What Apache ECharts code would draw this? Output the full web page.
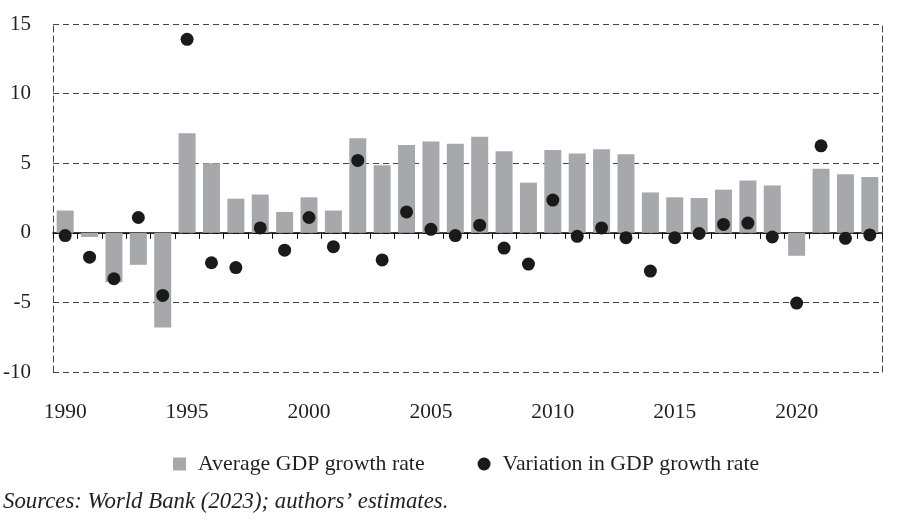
<!DOCTYPE html>
<html>
<head>
<meta charset="utf-8">
<script src="https://cdn.jsdelivr.net/npm/echarts@6/dist/echarts.min.js"></script>
<style>html,body{margin:0;padding:0;background:#fff}#c{width:900px;height:527px}</style>
</head>
<body>
<div id="c"></div>
<script>
const years = ['1990','1991','1992','1993','1994','1995','1996','1997','1998','1999','2000','2001','2002','2003','2004','2005','2006','2007','2008','2009','2010','2011','2012','2013','2014','2015','2016','2017','2018','2019','2020','2021','2022','2023'];
const avgGrowth = [1.6,-0.3,-3.55,-2.3,-6.8,7.15,5.0,2.45,2.75,1.5,2.55,1.6,6.8,4.85,6.3,6.55,6.4,6.9,5.85,3.6,5.95,5.7,6.0,5.65,2.9,2.55,2.5,3.1,3.75,3.4,-1.65,4.6,4.2,4.0];
const variation = [-0.2,-1.75,-3.3,1.1,-4.5,13.9,-2.15,-2.5,0.35,-1.25,1.1,-1.0,5.2,-1.95,1.5,0.25,-0.2,0.55,-1.1,-2.25,2.35,-0.25,0.35,-0.35,-2.75,-0.35,-0.05,0.6,0.7,-0.3,-5.05,6.25,-0.4,-0.15];
const yTicks = {min:-10, max:15, interval:5};
const sourceText = 'Sources: World Bank (2023); authors\u2019 estimates.';

const font = 'Liberation Serif';
const txt = '#231f20';
const chart = echarts.init(document.getElementById('c'), null, {renderer:'canvas'});
chart.setOption({
  animation:false,
  backgroundColor:'#fff',
  grid:{left:51, right:18, top:24, bottom:155, containLabel:false},
  legend:{
    left:173, top:453, padding:0, itemGap:53, itemWidth:13, itemHeight:13,
    textStyle:{fontFamily:font, fontSize:21.8, color:txt, padding:[0,0,0,7]},
    data:[{name:'Average GDP growth rate', icon:'rect'},{name:'Variation in GDP growth rate', icon:'circle'}]
  },
  xAxis:[
    {type:'category', data:years, position:'bottom',
     axisLine:{onZero:true, lineStyle:{color:'#000', width:1.5}},
     axisTick:{show:true, interval:0, length:6, lineStyle:{color:'#000', width:1}},
     axisLabel:{show:false}, splitLine:{show:false}},
    {type:'category', data:years, position:'bottom',
     axisLine:{show:false, onZero:false}, axisTick:{show:false},
     axisLabel:{interval:4, margin:29, fontFamily:font, fontSize:21.5, color:txt}}
  ],
  yAxis:[
    {type:'value', min:yTicks.min, max:yTicks.max, interval:yTicks.interval, position:'left',
     axisLine:{show:true, lineStyle:{color:'#444', type:[6,4], width:1}},
     axisTick:{show:false},
     axisLabel:{margin:22, fontFamily:font, fontSize:21, color:txt},
     splitLine:{show:true, lineStyle:{color:'#444', type:[6,4], width:1}}},
    {type:'value', min:yTicks.min, max:yTicks.max, interval:yTicks.interval, position:'right',
     axisLine:{show:true, lineStyle:{color:'#444', type:[6,4], width:1}},
     axisTick:{show:false}, axisLabel:{show:false}, splitLine:{show:false}}
  ],
  series:[
    {name:'Average GDP growth rate', type:'bar', xAxisIndex:0, yAxisIndex:0, data:avgGrowth,
     barWidth:17, itemStyle:{color:'#a7a8ab'}, z:2},
    {name:'Variation in GDP growth rate', type:'scatter', xAxisIndex:0, yAxisIndex:0, data:variation,
     symbol:'circle', symbolSize:13, itemStyle:{color:'#1a1a1a', opacity:1}, z:3}
  ],
  graphic:[
    {type:'text', left:3, top:491, style:{text:sourceText, font:'italic 22.8px "Liberation Serif"', fill:txt}}
  ]
});
</script>
</body>
</html>
